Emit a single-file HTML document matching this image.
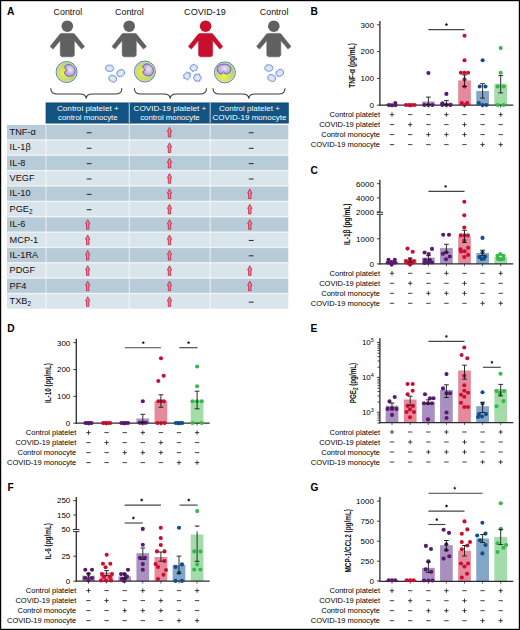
<!DOCTYPE html>
<html><head><meta charset="utf-8"><title>Figure</title>
<style>
html,body{margin:0;padding:0;background:#fff;}
body{width:520px;height:630px;overflow:hidden;}
svg{display:block;font-family:"Liberation Sans", sans-serif;}
</style></head><body>
<svg width="520" height="630" viewBox="0 0 520 630">
<defs>
<radialGradient id="cellga" cx="0.38" cy="0.55" r="0.5">
<stop offset="0" stop-color="#eef040"/><stop offset="0.35" stop-color="#d9e560"/><stop offset="0.8" stop-color="#c0d77a"/><stop offset="1" stop-color="#b0cd86"/></radialGradient>
<radialGradient id="cellgb" cx="0.45" cy="0.7" r="0.5">
<stop offset="0" stop-color="#eef040"/><stop offset="0.35" stop-color="#d9e560"/><stop offset="0.8" stop-color="#c0d77a"/><stop offset="1" stop-color="#b0cd86"/></radialGradient>
<radialGradient id="nucg" cx="0.55" cy="0.45" r="0.6">
<stop offset="0" stop-color="#efe6f4"/><stop offset="1" stop-color="#a995cf"/></radialGradient>
<radialGradient id="platg" cx="0.5" cy="0.55" r="0.6">
<stop offset="0" stop-color="#e8f0fb"/><stop offset="1" stop-color="#bfd0ee"/></radialGradient>
</defs>
<rect x="0" y="0" width="520" height="630" fill="#fff"/>
<text x="7.1" y="14.8" font-size="10.2" font-weight="bold">A</text><text x="67.9" y="14.9" font-size="9.1" text-anchor="middle" textLength="28.6" lengthAdjust="spacingAndGlyphs" fill="#111">Control</text><text x="129.4" y="14.9" font-size="9.1" text-anchor="middle" textLength="28.6" lengthAdjust="spacingAndGlyphs" fill="#111">Control</text><text x="205" y="14.9" font-size="9.1" text-anchor="middle" textLength="41.8" lengthAdjust="spacingAndGlyphs" fill="#111">COVID-19</text><text x="274.1" y="14.9" font-size="9.1" text-anchor="middle" textLength="28.6" lengthAdjust="spacingAndGlyphs" fill="#111">Control</text><circle cx="67.3" cy="26.2" r="5.8" fill="#606060"/><path d="M61.3,33.4 L73.3,33.4 L74.5,34 L84.5,46.6 L81.5,49.1 L74.3,40.4 L74.3,55.3 L72.8,56.8 L61.8,56.8 L60.3,55.3 L60.3,40.4 L53.1,49.1 L50.1,46.6 L60.1,34 Z" fill="#606060" stroke="#606060" stroke-width="0.6" stroke-linejoin="round"/><circle cx="129.2" cy="26.2" r="5.8" fill="#606060"/><path d="M123.2,33.4 L135.2,33.4 L136.4,34 L146.4,46.6 L143.4,49.1 L136.2,40.4 L136.2,55.3 L134.7,56.8 L123.7,56.8 L122.2,55.3 L122.2,40.4 L115,49.1 L112,46.6 L122,34 Z" fill="#606060" stroke="#606060" stroke-width="0.6" stroke-linejoin="round"/><circle cx="205.6" cy="26.2" r="5.8" fill="#c8102e"/><path d="M199.6,33.4 L211.6,33.4 L212.8,34 L222.8,46.6 L219.8,49.1 L212.6,40.4 L212.6,55.3 L211.1,56.8 L200.1,56.8 L198.6,55.3 L198.6,40.4 L191.4,49.1 L188.4,46.6 L198.4,34 Z" fill="#c8102e" stroke="#c8102e" stroke-width="0.6" stroke-linejoin="round"/><circle cx="273.8" cy="26.2" r="5.8" fill="#606060"/><path d="M267.8,33.4 L279.8,33.4 L281,34 L291,46.6 L288,49.1 L280.8,40.4 L280.8,55.3 L279.3,56.8 L268.3,56.8 L266.8,55.3 L266.8,40.4 L259.6,49.1 L256.6,46.6 L266.6,34 Z" fill="#606060" stroke="#606060" stroke-width="0.6" stroke-linejoin="round"/><circle cx="66.6" cy="72" r="10.5" fill="url(#cellga)" stroke="#5a7cd0" stroke-width="1.0"/><circle cx="66.6" cy="72" r="9.5" fill="none" stroke="#dcee9a" stroke-width="0.8" stroke-opacity="0.7"/><path d="M64.3,67.5 C65.1,64.4 69.6,63.4 72.2,66 C76.5,69 76,75.6 71,76.1 C67.1,76.8 64,74.6 64.6,71.8 L67,70.4 Z" fill="url(#nucg)" stroke="#5e56b8" stroke-width="0.85"/><circle cx="144.9" cy="71.5" r="10.5" fill="url(#cellga)" stroke="#5a7cd0" stroke-width="1.0"/><circle cx="144.9" cy="71.5" r="9.5" fill="none" stroke="#dcee9a" stroke-width="0.8" stroke-opacity="0.7"/><path d="M142.6,67 C143.4,63.9 147.9,62.9 150.5,65.5 C154.8,68.5 154.3,75.1 149.3,75.6 C145.4,76.3 142.3,74.1 142.9,71.3 L145.3,69.9 Z" fill="url(#nucg)" stroke="#5e56b8" stroke-width="0.85"/><circle cx="224.9" cy="72.4" r="10.5" fill="url(#cellgb)" stroke="#5a7cd0" stroke-width="1.0"/><circle cx="224.9" cy="72.4" r="9.5" fill="none" stroke="#dcee9a" stroke-width="0.8" stroke-opacity="0.7"/><path d="M225.2,73.9 C228.4,74.2 230.8,71.9 230.8,69.2 C230.8,66.2 228.1,64.2 224,64.2 C219.9,64.2 217.2,66.2 217.2,69.2 C217.2,71.9 219.4,74.2 221.7,74 Q222.7,73.8 223,72.2 Q223.6,71 224.2,72.2 Q224.5,73.9 225.2,73.9 Z" fill="url(#nucg)" stroke="#5e56b8" stroke-width="0.85"/><ellipse cx="0" cy="0" rx="4.1" ry="3.3" transform="translate(109.6 68.25) rotate(8)" fill="url(#platg)" stroke="#6f8fd2" stroke-width="0.8"/><ellipse cx="0" cy="0" rx="4.1" ry="3.3" transform="translate(120.75 73.1) rotate(-25)" fill="url(#platg)" stroke="#6f8fd2" stroke-width="0.8"/><ellipse cx="0" cy="0" rx="4.1" ry="3.3" transform="translate(112.75 78.6) rotate(20)" fill="url(#platg)" stroke="#6f8fd2" stroke-width="0.8"/><ellipse cx="0" cy="0" rx="4.1" ry="3.3" transform="translate(268.8 68) rotate(8)" fill="url(#platg)" stroke="#6f8fd2" stroke-width="0.8"/><ellipse cx="0" cy="0" rx="4.1" ry="3.3" transform="translate(279.8 72.9) rotate(-25)" fill="url(#platg)" stroke="#6f8fd2" stroke-width="0.8"/><ellipse cx="0" cy="0" rx="4.1" ry="3.3" transform="translate(271.7 78) rotate(20)" fill="url(#platg)" stroke="#6f8fd2" stroke-width="0.8"/><path d="M196.93,69.34 Q196.88,70.61 195.73,70.47 Q194.59,70.34 193.55,71.31 Q192.52,72.29 192.26,71.02 Q192,69.74 190.96,69.47 Q189.92,69.21 190.12,68.35 Q190.32,67.5 190.8,66.27 Q191.27,65.04 192.15,64.95 Q193.02,64.87 193.67,64.38 Q194.31,63.88 195.02,64.8 Q195.73,65.73 196.86,66.15 Q197.99,66.58 197.49,67.32 Q196.99,68.06 196.93,69.34 Z" fill="url(#platg)" stroke="#6485d0" stroke-width="0.9" stroke-linejoin="round"/><path d="M188.17,79.38 Q187.65,80.43 186.63,79.36 Q185.62,78.3 184.43,78.39 Q183.24,78.48 183.82,77.34 Q184.4,76.21 183.63,75.62 Q182.87,75.04 184.11,74.38 Q185.34,73.72 185.78,72.82 Q186.21,71.91 187.32,72.36 Q188.42,72.81 189.46,72.77 Q190.49,72.72 190.27,73.82 Q190.04,74.92 190.2,76.28 Q190.35,77.63 189.52,77.98 Q188.68,78.33 188.17,79.38 Z" fill="url(#platg)" stroke="#6485d0" stroke-width="0.9" stroke-linejoin="round"/><path d="M196.4,81.12 Q194.92,81.43 194.78,80.52 Q194.64,79.61 193.86,78.8 Q193.08,77.98 193.8,77.15 Q194.53,76.32 194.71,75.14 Q194.89,73.96 196.31,74.16 Q197.74,74.37 198.76,73.95 Q199.78,73.54 199.82,75.11 Q199.85,76.68 201.05,77.17 Q202.25,77.65 201.07,78.44 Q199.88,79.23 199.99,80.41 Q200.09,81.58 198.99,81.2 Q197.88,80.81 196.4,81.12 Z" fill="url(#platg)" stroke="#6485d0" stroke-width="0.9" stroke-linejoin="round"/><path d="M50.8,88.2 C50.8,92.5 53.3,94 57.3,94 L79.7,94 C84.2,94 86.2,95.2 86.2,98.8 C86.2,95.2 88.2,94 92.7,94 L115.4,94 C119.4,94 121.9,92.5 121.9,88.2" fill="none" stroke="#3a3a3a" stroke-width="1.05"/><path d="M134.4,88.2 C134.4,92.5 136.9,94 140.9,94 L163.7,94 C168.2,94 170.2,95.2 170.2,98.8 C170.2,95.2 172.2,94 176.7,94 L200,94 C204,94 206.5,92.5 206.5,88.2" fill="none" stroke="#3a3a3a" stroke-width="1.05"/><path d="M213,88.2 C213,92.5 215.5,94 219.5,94 L242.3,94 C246.8,94 248.8,95.2 248.8,98.8 C248.8,95.2 250.8,94 255.3,94 L278.5,94 C282.5,94 285,92.5 285,88.2" fill="none" stroke="#3a3a3a" stroke-width="1.05"/><rect x="46.0" y="102.9" width="242.3" height="20.2" fill="#135483" stroke="#0d4070" stroke-width="0.7"/><rect x="128.7" y="102.6" width="1.2" height="20.8" fill="#a9bfd4"/><rect x="209.6" y="102.6" width="1.2" height="20.8" fill="#a9bfd4"/><text x="87.85" y="110.8" font-size="8.1" text-anchor="middle" textLength="61.8" lengthAdjust="spacingAndGlyphs" fill="#fff">Control platelet +</text><text x="87.85" y="120.0" font-size="8.1" text-anchor="middle" textLength="59.6" lengthAdjust="spacingAndGlyphs" fill="#fff">control monocyte</text><text x="169.95" y="110.8" font-size="8.1" text-anchor="middle" textLength="72.7" lengthAdjust="spacingAndGlyphs" fill="#fff">COVID-19 platelet +</text><text x="169.95" y="120.0" font-size="8.1" text-anchor="middle" textLength="59.5" lengthAdjust="spacingAndGlyphs" fill="#fff">control monocyte</text><text x="249.45" y="110.8" font-size="8.1" text-anchor="middle" textLength="60.9" lengthAdjust="spacingAndGlyphs" fill="#fff">Control platelet +</text><text x="249.45" y="120.0" font-size="8.1" text-anchor="middle" textLength="73.9" lengthAdjust="spacingAndGlyphs" fill="#fff">COVID-19 monocyte</text><rect x="7.0" y="124.9" width="281.3" height="15" fill="#b8cbd9"/><rect x="7.0" y="139.9" width="281.3" height="15.36" fill="#dae4eb"/><rect x="7.0" y="155.26" width="281.3" height="15.36" fill="#b8cbd9"/><rect x="7.0" y="170.62" width="281.3" height="15.36" fill="#dae4eb"/><rect x="7.0" y="185.98" width="281.3" height="15.36" fill="#b8cbd9"/><rect x="7.0" y="201.34" width="281.3" height="15.36" fill="#dae4eb"/><rect x="7.0" y="216.7" width="281.3" height="15.36" fill="#b8cbd9"/><rect x="7.0" y="232.06" width="281.3" height="15.36" fill="#dae4eb"/><rect x="7.0" y="247.42" width="281.3" height="15.36" fill="#b8cbd9"/><rect x="7.0" y="262.78" width="281.3" height="15.36" fill="#dae4eb"/><rect x="7.0" y="278.14" width="281.3" height="15.36" fill="#b8cbd9"/><rect x="7.0" y="293.5" width="281.3" height="15.2" fill="#dae4eb"/><rect x="7.0" y="139.2" width="281.3" height="1.4" fill="#fff" fill-opacity="0.62"/><rect x="7.0" y="154.56" width="281.3" height="1.4" fill="#fff" fill-opacity="0.62"/><rect x="7.0" y="169.92" width="281.3" height="1.4" fill="#fff" fill-opacity="0.62"/><rect x="7.0" y="185.28" width="281.3" height="1.4" fill="#fff" fill-opacity="0.62"/><rect x="7.0" y="200.64" width="281.3" height="1.4" fill="#fff" fill-opacity="0.62"/><rect x="7.0" y="216" width="281.3" height="1.4" fill="#fff" fill-opacity="0.62"/><rect x="7.0" y="231.36" width="281.3" height="1.4" fill="#fff" fill-opacity="0.62"/><rect x="7.0" y="246.72" width="281.3" height="1.4" fill="#fff" fill-opacity="0.62"/><rect x="7.0" y="262.08" width="281.3" height="1.4" fill="#fff" fill-opacity="0.62"/><rect x="7.0" y="277.44" width="281.3" height="1.4" fill="#fff" fill-opacity="0.62"/><rect x="7.0" y="292.8" width="281.3" height="1.4" fill="#fff" fill-opacity="0.62"/><rect x="45.35" y="124.9" width="1.3" height="183.8" fill="#fff" fill-opacity="0.55"/><rect x="128.65" y="124.9" width="1.3" height="183.8" fill="#fff" fill-opacity="0.55"/><rect x="209.55" y="124.9" width="1.3" height="183.8" fill="#fff" fill-opacity="0.55"/><text x="9.6" y="134.85" font-size="9.2" fill="#111">TNF-α</text><rect x="86.7" y="132.25" width="4.8" height="1.0" fill="#262626"/><path d="M169.5,127.35 L171.65,131.55 L170.7,131.55 L170.7,136.95 L168.3,136.95 L168.3,131.55 L167.35,131.55 Z" fill="#ec8499" stroke="#c71c3e" stroke-width="0.8" stroke-linejoin="round"/><rect x="248.8" y="132.25" width="4.8" height="1.0" fill="#262626"/><text x="9.6" y="150.38" font-size="9.2" fill="#111">IL-1β</text><rect x="86.7" y="147.78" width="4.8" height="1.0" fill="#262626"/><path d="M169.5,142.88 L171.65,147.08 L170.7,147.08 L170.7,152.48 L168.3,152.48 L168.3,147.08 L167.35,147.08 Z" fill="#ec8499" stroke="#c71c3e" stroke-width="0.8" stroke-linejoin="round"/><rect x="248.8" y="147.78" width="4.8" height="1.0" fill="#262626"/><text x="9.6" y="165.74" font-size="9.2" fill="#111">IL-8</text><rect x="86.7" y="163.14" width="4.8" height="1.0" fill="#262626"/><path d="M169.5,158.24 L171.65,162.44 L170.7,162.44 L170.7,167.84 L168.3,167.84 L168.3,162.44 L167.35,162.44 Z" fill="#ec8499" stroke="#c71c3e" stroke-width="0.8" stroke-linejoin="round"/><rect x="248.8" y="163.14" width="4.8" height="1.0" fill="#262626"/><text x="9.6" y="181.1" font-size="9.2" fill="#111">VEGF</text><rect x="86.7" y="178.5" width="4.8" height="1.0" fill="#262626"/><path d="M169.5,173.6 L171.65,177.8 L170.7,177.8 L170.7,183.2 L168.3,183.2 L168.3,177.8 L167.35,177.8 Z" fill="#ec8499" stroke="#c71c3e" stroke-width="0.8" stroke-linejoin="round"/><rect x="248.8" y="178.5" width="4.8" height="1.0" fill="#262626"/><text x="9.6" y="196.46" font-size="9.2" fill="#111">IL-10</text><rect x="86.7" y="193.86" width="4.8" height="1.0" fill="#262626"/><path d="M169.5,188.96 L171.65,193.16 L170.7,193.16 L170.7,198.56 L168.3,198.56 L168.3,193.16 L167.35,193.16 Z" fill="#ec8499" stroke="#c71c3e" stroke-width="0.8" stroke-linejoin="round"/><path d="M249.8,188.96 L251.95,193.16 L251,193.16 L251,198.56 L248.6,198.56 L248.6,193.16 L247.65,193.16 Z" fill="#ec8499" stroke="#c71c3e" stroke-width="0.8" stroke-linejoin="round"/><text x="9.6" y="211.82" font-size="9.2" fill="#111">PGE<tspan font-size="6.5" dy="2">2</tspan></text><rect x="86.7" y="209.22" width="4.8" height="1.0" fill="#262626"/><path d="M169.5,204.32 L171.65,208.52 L170.7,208.52 L170.7,213.92 L168.3,213.92 L168.3,208.52 L167.35,208.52 Z" fill="#ec8499" stroke="#c71c3e" stroke-width="0.8" stroke-linejoin="round"/><path d="M249.8,204.32 L251.95,208.52 L251,208.52 L251,213.92 L248.6,213.92 L248.6,208.52 L247.65,208.52 Z" fill="#ec8499" stroke="#c71c3e" stroke-width="0.8" stroke-linejoin="round"/><text x="9.6" y="227.18" font-size="9.2" fill="#111">IL-6</text><path d="M87.7,219.68 L89.85,223.88 L88.9,223.88 L88.9,229.28 L86.5,229.28 L86.5,223.88 L85.55,223.88 Z" fill="#ec8499" stroke="#c71c3e" stroke-width="0.8" stroke-linejoin="round"/><path d="M169.5,219.68 L171.65,223.88 L170.7,223.88 L170.7,229.28 L168.3,229.28 L168.3,223.88 L167.35,223.88 Z" fill="#ec8499" stroke="#c71c3e" stroke-width="0.8" stroke-linejoin="round"/><path d="M249.8,219.68 L251.95,223.88 L251,223.88 L251,229.28 L248.6,229.28 L248.6,223.88 L247.65,223.88 Z" fill="#ec8499" stroke="#c71c3e" stroke-width="0.8" stroke-linejoin="round"/><text x="9.6" y="242.54" font-size="9.2" fill="#111">MCP-1</text><path d="M87.7,235.04 L89.85,239.24 L88.9,239.24 L88.9,244.64 L86.5,244.64 L86.5,239.24 L85.55,239.24 Z" fill="#ec8499" stroke="#c71c3e" stroke-width="0.8" stroke-linejoin="round"/><path d="M169.5,235.04 L171.65,239.24 L170.7,239.24 L170.7,244.64 L168.3,244.64 L168.3,239.24 L167.35,239.24 Z" fill="#ec8499" stroke="#c71c3e" stroke-width="0.8" stroke-linejoin="round"/><rect x="248.8" y="239.94" width="4.8" height="1.0" fill="#262626"/><text x="9.6" y="257.9" font-size="9.2" fill="#111">IL-1RA</text><path d="M87.7,250.4 L89.85,254.6 L88.9,254.6 L88.9,260 L86.5,260 L86.5,254.6 L85.55,254.6 Z" fill="#ec8499" stroke="#c71c3e" stroke-width="0.8" stroke-linejoin="round"/><path d="M169.5,250.4 L171.65,254.6 L170.7,254.6 L170.7,260 L168.3,260 L168.3,254.6 L167.35,254.6 Z" fill="#ec8499" stroke="#c71c3e" stroke-width="0.8" stroke-linejoin="round"/><rect x="248.8" y="255.3" width="4.8" height="1.0" fill="#262626"/><text x="9.6" y="273.26" font-size="9.2" fill="#111">PDGF</text><path d="M87.7,265.76 L89.85,269.96 L88.9,269.96 L88.9,275.36 L86.5,275.36 L86.5,269.96 L85.55,269.96 Z" fill="#ec8499" stroke="#c71c3e" stroke-width="0.8" stroke-linejoin="round"/><path d="M169.5,265.76 L171.65,269.96 L170.7,269.96 L170.7,275.36 L168.3,275.36 L168.3,269.96 L167.35,269.96 Z" fill="#ec8499" stroke="#c71c3e" stroke-width="0.8" stroke-linejoin="round"/><path d="M249.8,265.76 L251.95,269.96 L251,269.96 L251,275.36 L248.6,275.36 L248.6,269.96 L247.65,269.96 Z" fill="#ec8499" stroke="#c71c3e" stroke-width="0.8" stroke-linejoin="round"/><text x="9.6" y="288.62" font-size="9.2" fill="#111">PF4</text><path d="M87.7,281.12 L89.85,285.32 L88.9,285.32 L88.9,290.72 L86.5,290.72 L86.5,285.32 L85.55,285.32 Z" fill="#ec8499" stroke="#c71c3e" stroke-width="0.8" stroke-linejoin="round"/><path d="M169.5,281.12 L171.65,285.32 L170.7,285.32 L170.7,290.72 L168.3,290.72 L168.3,285.32 L167.35,285.32 Z" fill="#ec8499" stroke="#c71c3e" stroke-width="0.8" stroke-linejoin="round"/><path d="M249.8,281.12 L251.95,285.32 L251,285.32 L251,290.72 L248.6,290.72 L248.6,285.32 L247.65,285.32 Z" fill="#ec8499" stroke="#c71c3e" stroke-width="0.8" stroke-linejoin="round"/><text x="9.6" y="304.25" font-size="9.2" fill="#111">TXB<tspan font-size="6.5" dy="2">2</tspan></text><path d="M87.7,296.75 L89.85,300.95 L88.9,300.95 L88.9,306.35 L86.5,306.35 L86.5,300.95 L85.55,300.95 Z" fill="#ec8499" stroke="#c71c3e" stroke-width="0.8" stroke-linejoin="round"/><path d="M169.5,296.75 L171.65,300.95 L170.7,300.95 L170.7,306.35 L168.3,306.35 L168.3,300.95 L167.35,300.95 Z" fill="#ec8499" stroke="#c71c3e" stroke-width="0.8" stroke-linejoin="round"/><rect x="248.8" y="301.65" width="4.8" height="1.0" fill="#262626"/><text x="310.4" y="14.8" font-size="10.2" font-weight="bold">B</text><rect x="385.65" y="103.8" width="12.7" height="1.4" fill="#a890c0"/><rect x="403.85" y="104.3" width="12.7" height="0.9" fill="#e5899c"/><rect x="422.05" y="101.5" width="12.7" height="3.7" fill="#a890c0"/><rect x="440.05" y="102.6" width="12.7" height="2.6" fill="#a890c0"/><rect x="458.15" y="80.4" width="12.7" height="24.8" fill="#e5899c"/><rect x="476.25" y="91" width="12.7" height="14.2" fill="#82a5c8"/><rect x="494.35" y="83.7" width="12.7" height="21.5" fill="#a3dca8"/><path d="M379.9,21 V105.85" stroke="#2b2b2b" stroke-width="1.3" fill="none"/><path d="M379.25,105.2 H513.3" stroke="#2b2b2b" stroke-width="1.3" fill="none"/><circle cx="389" cy="105.1" r="2.05" fill="#5a1870"/><circle cx="392" cy="105.2" r="2.05" fill="#5a1870"/><circle cx="395.3" cy="103" r="2.05" fill="#5a1870"/><circle cx="395.3" cy="105.2" r="2.05" fill="#5a1870"/><circle cx="405.9" cy="105" r="2.05" fill="#cf0c2e"/><circle cx="408.77" cy="105" r="2.05" fill="#cf0c2e"/><circle cx="411.63" cy="105" r="2.05" fill="#cf0c2e"/><circle cx="414.5" cy="105" r="2.05" fill="#cf0c2e"/><circle cx="428.4" cy="73" r="2.05" fill="#5a1870"/><circle cx="424.4" cy="105" r="2.05" fill="#5a1870"/><circle cx="428.4" cy="105" r="2.05" fill="#5a1870"/><circle cx="432.4" cy="105" r="2.05" fill="#5a1870"/><circle cx="446.4" cy="93.9" r="2.05" fill="#5a1870"/><circle cx="442.4" cy="103.4" r="2.05" fill="#5a1870"/><circle cx="442.4" cy="105" r="2.05" fill="#5a1870"/><circle cx="446.4" cy="105" r="2.05" fill="#5a1870"/><circle cx="450.4" cy="105" r="2.05" fill="#5a1870"/><circle cx="464.5" cy="35.8" r="2.05" fill="#cf0c2e"/><circle cx="464.5" cy="60.2" r="2.05" fill="#cf0c2e"/><circle cx="460.9" cy="72.7" r="2.05" fill="#cf0c2e"/><circle cx="464.5" cy="72.7" r="2.05" fill="#cf0c2e"/><circle cx="468.1" cy="72.7" r="2.05" fill="#cf0c2e"/><circle cx="464.5" cy="79.4" r="2.05" fill="#cf0c2e"/><circle cx="464.5" cy="86.5" r="2.05" fill="#cf0c2e"/><circle cx="461.8" cy="103" r="2.05" fill="#cf0c2e"/><circle cx="467.2" cy="103" r="2.05" fill="#cf0c2e"/><circle cx="464.5" cy="105" r="2.05" fill="#cf0c2e"/><circle cx="482.6" cy="60.2" r="2.05" fill="#0e4f91"/><circle cx="479.7" cy="86.5" r="2.05" fill="#0e4f91"/><circle cx="485.5" cy="86.5" r="2.05" fill="#0e4f91"/><circle cx="478.8" cy="103" r="2.05" fill="#0e4f91"/><circle cx="482.6" cy="105" r="2.05" fill="#0e4f91"/><circle cx="486.4" cy="105" r="2.05" fill="#0e4f91"/><circle cx="500.7" cy="48.1" r="2.05" fill="#35b94b"/><circle cx="500.7" cy="72.7" r="2.05" fill="#35b94b"/><circle cx="497.7" cy="86.5" r="2.05" fill="#35b94b"/><circle cx="503.7" cy="86.5" r="2.05" fill="#35b94b"/><circle cx="497.7" cy="105" r="2.05" fill="#35b94b"/><circle cx="503.7" cy="105" r="2.05" fill="#35b94b"/><path d="M428.4,97.1 V104.5" stroke="#1a1a1a" stroke-width="0.9" fill="none"/><path d="M426,97.1 H430.8 M426,104.5 H430.8" stroke="#1a1a1a" stroke-width="0.9" fill="none"/><path d="M446.4,100.6 V104.5" stroke="#1a1a1a" stroke-width="0.9" fill="none"/><path d="M444,100.6 H448.8 M444,104.5 H448.8" stroke="#1a1a1a" stroke-width="0.9" fill="none"/><path d="M464.5,75 V86.5" stroke="#1a1a1a" stroke-width="0.9" fill="none"/><path d="M462.1,75 H466.9 M462.1,86.5 H466.9" stroke="#1a1a1a" stroke-width="0.9" fill="none"/><path d="M482.6,83.7 V98.1" stroke="#1a1a1a" stroke-width="0.9" fill="none"/><path d="M480.2,83.7 H485 M480.2,98.1 H485" stroke="#1a1a1a" stroke-width="0.9" fill="none"/><path d="M500.7,75.6 V92.9" stroke="#1a1a1a" stroke-width="0.9" fill="none"/><path d="M498.3,75.6 H503.1 M498.3,92.9 H503.1" stroke="#1a1a1a" stroke-width="0.9" fill="none"/><path d="M392,105.2 V107.5" stroke="#2b2b2b" stroke-width="0.8"/><path d="M410.2,105.2 V107.5" stroke="#2b2b2b" stroke-width="0.8"/><path d="M428.4,105.2 V107.5" stroke="#2b2b2b" stroke-width="0.8"/><path d="M446.4,105.2 V107.5" stroke="#2b2b2b" stroke-width="0.8"/><path d="M464.5,105.2 V107.5" stroke="#2b2b2b" stroke-width="0.8"/><path d="M482.6,105.2 V107.5" stroke="#2b2b2b" stroke-width="0.8"/><path d="M500.7,105.2 V107.5" stroke="#2b2b2b" stroke-width="0.8"/><path d="M376.9,105.2 H379.9" stroke="#2b2b2b" stroke-width="0.9"/><text x="373.9" y="108.05" font-size="8" text-anchor="end" fill="#000">0</text><path d="M376.9,78.4 H379.9" stroke="#2b2b2b" stroke-width="0.9"/><text x="373.9" y="81.25" font-size="8" text-anchor="end" fill="#000">100</text><path d="M376.9,51.6 H379.9" stroke="#2b2b2b" stroke-width="0.9"/><text x="373.9" y="54.45" font-size="8" text-anchor="end" fill="#000">200</text><path d="M376.9,24.8 H379.9" stroke="#2b2b2b" stroke-width="0.9"/><text x="373.9" y="27.65" font-size="8" text-anchor="end" fill="#000">300</text><text transform="translate(354.6 65.5) rotate(-90)" font-size="9" font-weight="bold" text-anchor="middle" textLength="44.7" lengthAdjust="spacingAndGlyphs" fill="#111">TNF-α (pg/mL)</text><path d="M428.4,29.6 H464.5" stroke="#444" stroke-width="1.15"/><path d="M446.45,22.85 L446.98,23.87 L448.11,24.06 L447.31,24.88 L447.48,26.02 L446.45,25.5 L445.42,26.02 L445.59,24.88 L444.79,24.06 L445.92,23.87 Z" fill="#111"/><text x="380" y="117.3" font-size="7.5" text-anchor="end" fill="#000">Control platelet</text><path d="M389.8,114.6 H394.2 M392,112.4 V116.8" stroke="#222" stroke-width="0.85"/><path d="M408,114.6 H412.4" stroke="#222" stroke-width="0.85"/><path d="M426.2,114.6 H430.6" stroke="#222" stroke-width="0.85"/><path d="M444.2,114.6 H448.6 M446.4,112.4 V116.8" stroke="#222" stroke-width="0.85"/><path d="M462.3,114.6 H466.7" stroke="#222" stroke-width="0.85"/><path d="M480.4,114.6 H484.8" stroke="#222" stroke-width="0.85"/><path d="M498.5,114.6 H502.9 M500.7,112.4 V116.8" stroke="#222" stroke-width="0.85"/><text x="380" y="127.3" font-size="7.5" text-anchor="end" fill="#000">COVID-19 platelet</text><path d="M389.8,124.6 H394.2" stroke="#222" stroke-width="0.85"/><path d="M408,124.6 H412.4 M410.2,122.4 V126.8" stroke="#222" stroke-width="0.85"/><path d="M426.2,124.6 H430.6" stroke="#222" stroke-width="0.85"/><path d="M444.2,124.6 H448.6" stroke="#222" stroke-width="0.85"/><path d="M462.3,124.6 H466.7 M464.5,122.4 V126.8" stroke="#222" stroke-width="0.85"/><path d="M480.4,124.6 H484.8" stroke="#222" stroke-width="0.85"/><path d="M498.5,124.6 H502.9" stroke="#222" stroke-width="0.85"/><text x="380" y="137.3" font-size="7.5" text-anchor="end" fill="#000">Control monocyte</text><path d="M389.8,134.6 H394.2" stroke="#222" stroke-width="0.85"/><path d="M408,134.6 H412.4" stroke="#222" stroke-width="0.85"/><path d="M426.2,134.6 H430.6 M428.4,132.4 V136.8" stroke="#222" stroke-width="0.85"/><path d="M444.2,134.6 H448.6 M446.4,132.4 V136.8" stroke="#222" stroke-width="0.85"/><path d="M462.3,134.6 H466.7 M464.5,132.4 V136.8" stroke="#222" stroke-width="0.85"/><path d="M480.4,134.6 H484.8" stroke="#222" stroke-width="0.85"/><path d="M498.5,134.6 H502.9" stroke="#222" stroke-width="0.85"/><text x="380" y="147.3" font-size="7.5" text-anchor="end" fill="#000">COVID-19 monocyte</text><path d="M389.8,144.6 H394.2" stroke="#222" stroke-width="0.85"/><path d="M408,144.6 H412.4" stroke="#222" stroke-width="0.85"/><path d="M426.2,144.6 H430.6" stroke="#222" stroke-width="0.85"/><path d="M444.2,144.6 H448.6" stroke="#222" stroke-width="0.85"/><path d="M462.3,144.6 H466.7" stroke="#222" stroke-width="0.85"/><path d="M480.4,144.6 H484.8 M482.6,142.4 V146.8" stroke="#222" stroke-width="0.85"/><path d="M498.5,144.6 H502.9 M500.7,142.4 V146.8" stroke="#222" stroke-width="0.85"/><text x="310.4" y="173.5" font-size="10.2" font-weight="bold">C</text><rect x="385.65" y="261.7" width="12.7" height="2.2" fill="#a890c0"/><rect x="403.85" y="259.7" width="12.7" height="4.2" fill="#e5899c"/><rect x="422.05" y="257.6" width="12.7" height="6.3" fill="#a890c0"/><rect x="440.05" y="248.1" width="12.7" height="15.8" fill="#a890c0"/><rect x="458.15" y="236.7" width="12.7" height="27.2" fill="#e5899c"/><rect x="476.25" y="253" width="12.7" height="10.9" fill="#82a5c8"/><rect x="494.35" y="257" width="12.7" height="6.9" fill="#a3dca8"/><path d="M379.9,179.8 V212.3 M379.9,214.3 V264.55" stroke="#2b2b2b" stroke-width="1.3" fill="none"/><path d="M376.7,212.3 H383.1 M376.7,214.3 H383.1" stroke="#2b2b2b" stroke-width="1" fill="none"/><path d="M379.25,263.9 H513.3" stroke="#2b2b2b" stroke-width="1.3" fill="none"/><circle cx="388.5" cy="259.7" r="2.05" fill="#5a1870"/><circle cx="394.8" cy="259.7" r="2.05" fill="#5a1870"/><circle cx="391.6" cy="262" r="2.05" fill="#5a1870"/><circle cx="388" cy="262.6" r="2.05" fill="#5a1870"/><circle cx="395" cy="262.6" r="2.05" fill="#5a1870"/><circle cx="391.6" cy="264.6" r="2.05" fill="#5a1870"/><circle cx="407.5" cy="248.6" r="2.05" fill="#cf0c2e"/><circle cx="412.7" cy="251.7" r="2.05" fill="#cf0c2e"/><circle cx="406" cy="261" r="2.05" fill="#cf0c2e"/><circle cx="410" cy="259.5" r="2.05" fill="#cf0c2e"/><circle cx="414" cy="261" r="2.05" fill="#cf0c2e"/><circle cx="408" cy="263" r="2.05" fill="#cf0c2e"/><circle cx="412" cy="263" r="2.05" fill="#cf0c2e"/><circle cx="410" cy="264.6" r="2.05" fill="#cf0c2e"/><circle cx="432" cy="248.9" r="2.05" fill="#5a1870"/><circle cx="424.6" cy="252.5" r="2.05" fill="#5a1870"/><circle cx="428.7" cy="254" r="2.05" fill="#5a1870"/><circle cx="425" cy="260" r="2.05" fill="#5a1870"/><circle cx="430" cy="260" r="2.05" fill="#5a1870"/><circle cx="428" cy="262.5" r="2.05" fill="#5a1870"/><circle cx="432" cy="262.5" r="2.05" fill="#5a1870"/><circle cx="424.5" cy="263" r="2.05" fill="#5a1870"/><circle cx="443.2" cy="234.8" r="2.05" fill="#5a1870"/><circle cx="449" cy="234.8" r="2.05" fill="#5a1870"/><circle cx="442.9" cy="253.8" r="2.05" fill="#5a1870"/><circle cx="446.3" cy="252.2" r="2.05" fill="#5a1870"/><circle cx="449.8" cy="256.5" r="2.05" fill="#5a1870"/><circle cx="446" cy="259.2" r="2.05" fill="#5a1870"/><circle cx="464.3" cy="201.7" r="2.05" fill="#cf0c2e"/><circle cx="464.3" cy="215.2" r="2.05" fill="#cf0c2e"/><circle cx="464.3" cy="227.5" r="2.05" fill="#cf0c2e"/><circle cx="460.8" cy="235.4" r="2.05" fill="#cf0c2e"/><circle cx="464.3" cy="235.4" r="2.05" fill="#cf0c2e"/><circle cx="467.9" cy="235.4" r="2.05" fill="#cf0c2e"/><circle cx="464.3" cy="240.6" r="2.05" fill="#cf0c2e"/><circle cx="468.1" cy="247.8" r="2.05" fill="#cf0c2e"/><circle cx="460.6" cy="249.4" r="2.05" fill="#cf0c2e"/><circle cx="464.6" cy="251.3" r="2.05" fill="#cf0c2e"/><circle cx="461" cy="251.5" r="2.05" fill="#cf0c2e"/><circle cx="468.1" cy="254.9" r="2.05" fill="#cf0c2e"/><circle cx="464.3" cy="257" r="2.05" fill="#cf0c2e"/><circle cx="482.5" cy="237.9" r="2.05" fill="#0e4f91"/><circle cx="482.5" cy="252.5" r="2.05" fill="#0e4f91"/><circle cx="479.4" cy="257" r="2.05" fill="#0e4f91"/><circle cx="485.2" cy="256.5" r="2.05" fill="#0e4f91"/><circle cx="481.6" cy="258.9" r="2.05" fill="#0e4f91"/><circle cx="484" cy="258.6" r="2.05" fill="#0e4f91"/><circle cx="497.5" cy="255.7" r="2.05" fill="#35b94b"/><circle cx="500.3" cy="254.1" r="2.05" fill="#35b94b"/><circle cx="503.5" cy="255.7" r="2.05" fill="#35b94b"/><circle cx="498" cy="258.9" r="2.05" fill="#35b94b"/><circle cx="503.2" cy="258.9" r="2.05" fill="#35b94b"/><circle cx="500.5" cy="259.4" r="2.05" fill="#35b94b"/><path d="M410.2,258 V262" stroke="#1a1a1a" stroke-width="0.9" fill="none"/><path d="M407.8,258 H412.6 M407.8,262 H412.6" stroke="#1a1a1a" stroke-width="0.9" fill="none"/><path d="M428.4,255.7 V260" stroke="#1a1a1a" stroke-width="0.9" fill="none"/><path d="M426,255.7 H430.8 M426,260 H430.8" stroke="#1a1a1a" stroke-width="0.9" fill="none"/><path d="M446.4,244.3 V252.5" stroke="#1a1a1a" stroke-width="0.9" fill="none"/><path d="M444,244.3 H448.8 M444,252.5 H448.8" stroke="#1a1a1a" stroke-width="0.9" fill="none"/><path d="M464.5,230.3 V242.5" stroke="#1a1a1a" stroke-width="0.9" fill="none"/><path d="M462.1,230.3 H466.9 M462.1,242.5 H466.9" stroke="#1a1a1a" stroke-width="0.9" fill="none"/><path d="M482.6,250.2 V255.7" stroke="#1a1a1a" stroke-width="0.9" fill="none"/><path d="M480.2,250.2 H485 M480.2,255.7 H485" stroke="#1a1a1a" stroke-width="0.9" fill="none"/><path d="M392,263.9 V266.2" stroke="#2b2b2b" stroke-width="0.8"/><path d="M410.2,263.9 V266.2" stroke="#2b2b2b" stroke-width="0.8"/><path d="M428.4,263.9 V266.2" stroke="#2b2b2b" stroke-width="0.8"/><path d="M446.4,263.9 V266.2" stroke="#2b2b2b" stroke-width="0.8"/><path d="M464.5,263.9 V266.2" stroke="#2b2b2b" stroke-width="0.8"/><path d="M482.6,263.9 V266.2" stroke="#2b2b2b" stroke-width="0.8"/><path d="M500.7,263.9 V266.2" stroke="#2b2b2b" stroke-width="0.8"/><path d="M376.9,263.9 H379.9" stroke="#2b2b2b" stroke-width="0.9"/><text x="373.9" y="266.75" font-size="8" text-anchor="end" fill="#000">0</text><path d="M376.9,238.8 H379.9" stroke="#2b2b2b" stroke-width="0.9"/><text x="373.9" y="241.65" font-size="8" text-anchor="end" fill="#000">1000</text><path d="M376.9,211.9 H379.9" stroke="#2b2b2b" stroke-width="0.9"/><text x="373.9" y="214.75" font-size="8" text-anchor="end" fill="#000">2000</text><path d="M376.9,197.9 H379.9" stroke="#2b2b2b" stroke-width="0.9"/><text x="373.9" y="200.75" font-size="8" text-anchor="end" fill="#000">4000</text><path d="M376.9,183.7 H379.9" stroke="#2b2b2b" stroke-width="0.9"/><text x="373.9" y="186.55" font-size="8" text-anchor="end" fill="#000">6000</text><text transform="translate(349.8 224.3) rotate(-90)" font-size="9" font-weight="bold" text-anchor="middle" textLength="41.6" lengthAdjust="spacingAndGlyphs" fill="#111">IL-1β (pg/mL)</text><path d="M428.4,191.4 H464.5" stroke="#444" stroke-width="1.15"/><path d="M445.6,184.65 L446.13,185.67 L447.26,185.86 L446.46,186.68 L446.63,187.82 L445.6,187.3 L444.57,187.82 L444.74,186.68 L443.94,185.86 L445.07,185.67 Z" fill="#111"/><text x="380" y="276" font-size="7.5" text-anchor="end" fill="#000">Control platelet</text><path d="M389.8,273.3 H394.2 M392,271.1 V275.5" stroke="#222" stroke-width="0.85"/><path d="M408,273.3 H412.4" stroke="#222" stroke-width="0.85"/><path d="M426.2,273.3 H430.6" stroke="#222" stroke-width="0.85"/><path d="M444.2,273.3 H448.6 M446.4,271.1 V275.5" stroke="#222" stroke-width="0.85"/><path d="M462.3,273.3 H466.7" stroke="#222" stroke-width="0.85"/><path d="M480.4,273.3 H484.8" stroke="#222" stroke-width="0.85"/><path d="M498.5,273.3 H502.9 M500.7,271.1 V275.5" stroke="#222" stroke-width="0.85"/><text x="380" y="286" font-size="7.5" text-anchor="end" fill="#000">COVID-19 platelet</text><path d="M389.8,283.3 H394.2" stroke="#222" stroke-width="0.85"/><path d="M408,283.3 H412.4 M410.2,281.1 V285.5" stroke="#222" stroke-width="0.85"/><path d="M426.2,283.3 H430.6" stroke="#222" stroke-width="0.85"/><path d="M444.2,283.3 H448.6" stroke="#222" stroke-width="0.85"/><path d="M462.3,283.3 H466.7 M464.5,281.1 V285.5" stroke="#222" stroke-width="0.85"/><path d="M480.4,283.3 H484.8" stroke="#222" stroke-width="0.85"/><path d="M498.5,283.3 H502.9" stroke="#222" stroke-width="0.85"/><text x="380" y="296" font-size="7.5" text-anchor="end" fill="#000">Control monocyte</text><path d="M389.8,293.3 H394.2" stroke="#222" stroke-width="0.85"/><path d="M408,293.3 H412.4" stroke="#222" stroke-width="0.85"/><path d="M426.2,293.3 H430.6 M428.4,291.1 V295.5" stroke="#222" stroke-width="0.85"/><path d="M444.2,293.3 H448.6 M446.4,291.1 V295.5" stroke="#222" stroke-width="0.85"/><path d="M462.3,293.3 H466.7 M464.5,291.1 V295.5" stroke="#222" stroke-width="0.85"/><path d="M480.4,293.3 H484.8" stroke="#222" stroke-width="0.85"/><path d="M498.5,293.3 H502.9" stroke="#222" stroke-width="0.85"/><text x="380" y="306" font-size="7.5" text-anchor="end" fill="#000">COVID-19 monocyte</text><path d="M389.8,303.3 H394.2" stroke="#222" stroke-width="0.85"/><path d="M408,303.3 H412.4" stroke="#222" stroke-width="0.85"/><path d="M426.2,303.3 H430.6" stroke="#222" stroke-width="0.85"/><path d="M444.2,303.3 H448.6" stroke="#222" stroke-width="0.85"/><path d="M462.3,303.3 H466.7" stroke="#222" stroke-width="0.85"/><path d="M480.4,303.3 H484.8 M482.6,301.1 V305.5" stroke="#222" stroke-width="0.85"/><path d="M498.5,303.3 H502.9 M500.7,301.1 V305.5" stroke="#222" stroke-width="0.85"/><text x="7.2" y="331.7" font-size="10.2" font-weight="bold">D</text><rect x="136.45" y="418.5" width="12.7" height="4.7" fill="#a890c0"/><rect x="154.55" y="401.2" width="12.7" height="22" fill="#e5899c"/><rect x="190.75" y="400.2" width="12.7" height="23" fill="#a3dca8"/><path d="M76.3,338.8 V423.85" stroke="#2b2b2b" stroke-width="1.3" fill="none"/><path d="M75.65,423.2 H209.7" stroke="#2b2b2b" stroke-width="1.3" fill="none"/><circle cx="85.5" cy="423" r="2.05" fill="#5a1870"/><circle cx="87.5" cy="423" r="2.05" fill="#5a1870"/><circle cx="89.5" cy="423" r="2.05" fill="#5a1870"/><circle cx="91.5" cy="423" r="2.05" fill="#5a1870"/><circle cx="103.1" cy="423" r="2.05" fill="#cf0c2e"/><circle cx="105.43" cy="423" r="2.05" fill="#cf0c2e"/><circle cx="107.77" cy="423" r="2.05" fill="#cf0c2e"/><circle cx="110.1" cy="423" r="2.05" fill="#cf0c2e"/><circle cx="121.4" cy="423" r="2.05" fill="#5a1870"/><circle cx="123.6" cy="423" r="2.05" fill="#5a1870"/><circle cx="125.8" cy="423" r="2.05" fill="#5a1870"/><circle cx="128" cy="423" r="2.05" fill="#5a1870"/><circle cx="142.8" cy="401.2" r="2.05" fill="#5a1870"/><circle cx="139.6" cy="422.8" r="2.05" fill="#5a1870"/><circle cx="141.73" cy="422.8" r="2.05" fill="#5a1870"/><circle cx="143.87" cy="422.8" r="2.05" fill="#5a1870"/><circle cx="146" cy="422.8" r="2.05" fill="#5a1870"/><circle cx="161" cy="358.3" r="2.05" fill="#cf0c2e"/><circle cx="163.7" cy="375.8" r="2.05" fill="#cf0c2e"/><circle cx="158.3" cy="381" r="2.05" fill="#cf0c2e"/><circle cx="158.3" cy="401.2" r="2.05" fill="#cf0c2e"/><circle cx="161" cy="401.2" r="2.05" fill="#cf0c2e"/><circle cx="164" cy="401.2" r="2.05" fill="#cf0c2e"/><circle cx="157.5" cy="423" r="2.05" fill="#cf0c2e"/><circle cx="161" cy="423" r="2.05" fill="#cf0c2e"/><circle cx="164.5" cy="423" r="2.05" fill="#cf0c2e"/><circle cx="175.8" cy="423" r="2.05" fill="#0e4f91"/><circle cx="177.93" cy="423" r="2.05" fill="#0e4f91"/><circle cx="180.07" cy="423" r="2.05" fill="#0e4f91"/><circle cx="182.2" cy="423" r="2.05" fill="#0e4f91"/><circle cx="197.1" cy="366.5" r="2.05" fill="#35b94b"/><circle cx="197.1" cy="386.3" r="2.05" fill="#35b94b"/><circle cx="192.5" cy="401.2" r="2.05" fill="#35b94b"/><circle cx="197.1" cy="401.2" r="2.05" fill="#35b94b"/><circle cx="201.7" cy="401.2" r="2.05" fill="#35b94b"/><circle cx="192.5" cy="423" r="2.05" fill="#35b94b"/><circle cx="201.7" cy="423" r="2.05" fill="#35b94b"/><path d="M142.8,414.3 V422.5" stroke="#1a1a1a" stroke-width="0.9" fill="none"/><path d="M140.4,414.3 H145.2 M140.4,422.5 H145.2" stroke="#1a1a1a" stroke-width="0.9" fill="none"/><path d="M160.9,394.8 V407.3" stroke="#1a1a1a" stroke-width="0.9" fill="none"/><path d="M158.5,394.8 H163.3 M158.5,407.3 H163.3" stroke="#1a1a1a" stroke-width="0.9" fill="none"/><path d="M197.1,391.2 V408.8" stroke="#1a1a1a" stroke-width="0.9" fill="none"/><path d="M194.7,391.2 H199.5 M194.7,408.8 H199.5" stroke="#1a1a1a" stroke-width="0.9" fill="none"/><path d="M88.5,423.2 V425.5" stroke="#2b2b2b" stroke-width="0.8"/><path d="M106.6,423.2 V425.5" stroke="#2b2b2b" stroke-width="0.8"/><path d="M124.7,423.2 V425.5" stroke="#2b2b2b" stroke-width="0.8"/><path d="M142.8,423.2 V425.5" stroke="#2b2b2b" stroke-width="0.8"/><path d="M160.9,423.2 V425.5" stroke="#2b2b2b" stroke-width="0.8"/><path d="M179,423.2 V425.5" stroke="#2b2b2b" stroke-width="0.8"/><path d="M197.1,423.2 V425.5" stroke="#2b2b2b" stroke-width="0.8"/><path d="M73.3,423.2 H76.3" stroke="#2b2b2b" stroke-width="0.9"/><text x="70.3" y="426.05" font-size="8" text-anchor="end" fill="#000">0</text><path d="M73.3,396.35 H76.3" stroke="#2b2b2b" stroke-width="0.9"/><text x="70.3" y="399.2" font-size="8" text-anchor="end" fill="#000">100</text><path d="M73.3,369.5 H76.3" stroke="#2b2b2b" stroke-width="0.9"/><text x="70.3" y="372.35" font-size="8" text-anchor="end" fill="#000">200</text><path d="M73.3,342.65 H76.3" stroke="#2b2b2b" stroke-width="0.9"/><text x="70.3" y="345.5" font-size="8" text-anchor="end" fill="#000">300</text><text transform="translate(51.2 383.1) rotate(-90)" font-size="9" font-weight="bold" text-anchor="middle" textLength="40" lengthAdjust="spacingAndGlyphs" fill="#111">IL-10 (pg/mL)</text><path d="M124.7,347.7 H160.9" stroke="#444" stroke-width="1.15"/><path d="M143.3,340.95 L143.83,341.97 L144.96,342.16 L144.16,342.98 L144.33,344.12 L143.3,343.6 L142.27,344.12 L142.44,342.98 L141.64,342.16 L142.77,341.97 Z" fill="#111"/><path d="M179.4,347.7 H197.6" stroke="#444" stroke-width="1.15"/><path d="M188.6,340.95 L189.13,341.97 L190.26,342.16 L189.46,342.98 L189.63,344.12 L188.6,343.6 L187.57,344.12 L187.74,342.98 L186.94,342.16 L188.07,341.97 Z" fill="#111"/><text x="76.3" y="435.3" font-size="7.5" text-anchor="end" fill="#000">Control platelet</text><path d="M86.3,432.6 H90.7 M88.5,430.4 V434.8" stroke="#222" stroke-width="0.85"/><path d="M104.4,432.6 H108.8" stroke="#222" stroke-width="0.85"/><path d="M122.5,432.6 H126.9" stroke="#222" stroke-width="0.85"/><path d="M140.6,432.6 H145 M142.8,430.4 V434.8" stroke="#222" stroke-width="0.85"/><path d="M158.7,432.6 H163.1" stroke="#222" stroke-width="0.85"/><path d="M176.8,432.6 H181.2" stroke="#222" stroke-width="0.85"/><path d="M194.9,432.6 H199.3 M197.1,430.4 V434.8" stroke="#222" stroke-width="0.85"/><text x="76.3" y="445.3" font-size="7.5" text-anchor="end" fill="#000">COVID-19 platelet</text><path d="M86.3,442.6 H90.7" stroke="#222" stroke-width="0.85"/><path d="M104.4,442.6 H108.8 M106.6,440.4 V444.8" stroke="#222" stroke-width="0.85"/><path d="M122.5,442.6 H126.9" stroke="#222" stroke-width="0.85"/><path d="M140.6,442.6 H145" stroke="#222" stroke-width="0.85"/><path d="M158.7,442.6 H163.1 M160.9,440.4 V444.8" stroke="#222" stroke-width="0.85"/><path d="M176.8,442.6 H181.2" stroke="#222" stroke-width="0.85"/><path d="M194.9,442.6 H199.3" stroke="#222" stroke-width="0.85"/><text x="76.3" y="455.3" font-size="7.5" text-anchor="end" fill="#000">Control monocyte</text><path d="M86.3,452.6 H90.7" stroke="#222" stroke-width="0.85"/><path d="M104.4,452.6 H108.8" stroke="#222" stroke-width="0.85"/><path d="M122.5,452.6 H126.9 M124.7,450.4 V454.8" stroke="#222" stroke-width="0.85"/><path d="M140.6,452.6 H145 M142.8,450.4 V454.8" stroke="#222" stroke-width="0.85"/><path d="M158.7,452.6 H163.1 M160.9,450.4 V454.8" stroke="#222" stroke-width="0.85"/><path d="M176.8,452.6 H181.2" stroke="#222" stroke-width="0.85"/><path d="M194.9,452.6 H199.3" stroke="#222" stroke-width="0.85"/><text x="76.3" y="465.3" font-size="7.5" text-anchor="end" fill="#000">COVID-19 monocyte</text><path d="M86.3,462.6 H90.7" stroke="#222" stroke-width="0.85"/><path d="M104.4,462.6 H108.8" stroke="#222" stroke-width="0.85"/><path d="M122.5,462.6 H126.9" stroke="#222" stroke-width="0.85"/><path d="M140.6,462.6 H145" stroke="#222" stroke-width="0.85"/><path d="M158.7,462.6 H163.1" stroke="#222" stroke-width="0.85"/><path d="M176.8,462.6 H181.2 M179,460.4 V464.8" stroke="#222" stroke-width="0.85"/><path d="M194.9,462.6 H199.3 M197.1,460.4 V464.8" stroke="#222" stroke-width="0.85"/><text x="310.4" y="331.5" font-size="10.2" font-weight="bold">E</text><rect x="385.65" y="405.7" width="12.7" height="16.9" fill="#a890c0"/><rect x="403.85" y="399.5" width="12.7" height="23.1" fill="#e5899c"/><rect x="422.05" y="402.2" width="12.7" height="20.4" fill="#a890c0"/><rect x="440.05" y="390" width="12.7" height="32.6" fill="#a890c0"/><rect x="458.15" y="370.5" width="12.7" height="52.1" fill="#e5899c"/><rect x="476.25" y="406.2" width="12.7" height="16.4" fill="#82a5c8"/><rect x="494.35" y="389" width="12.7" height="33.6" fill="#a3dca8"/><path d="M379.9,338.3 V423.25" stroke="#2b2b2b" stroke-width="1.3" fill="none"/><path d="M379.25,422.6 H513.3" stroke="#2b2b2b" stroke-width="1.3" fill="none"/><circle cx="394.7" cy="397" r="2.05" fill="#5a1870"/><circle cx="389.5" cy="401.4" r="2.05" fill="#5a1870"/><circle cx="387.6" cy="408.9" r="2.05" fill="#5a1870"/><circle cx="392" cy="408.9" r="2.05" fill="#5a1870"/><circle cx="396.5" cy="408.9" r="2.05" fill="#5a1870"/><circle cx="392" cy="414.9" r="2.05" fill="#5a1870"/><circle cx="407.6" cy="384" r="2.05" fill="#cf0c2e"/><circle cx="412.7" cy="384" r="2.05" fill="#cf0c2e"/><circle cx="412.7" cy="390.8" r="2.05" fill="#cf0c2e"/><circle cx="407.6" cy="394.3" r="2.05" fill="#cf0c2e"/><circle cx="407.6" cy="405.9" r="2.05" fill="#cf0c2e"/><circle cx="413" cy="405.9" r="2.05" fill="#cf0c2e"/><circle cx="410" cy="409.4" r="2.05" fill="#cf0c2e"/><circle cx="406.5" cy="412" r="2.05" fill="#cf0c2e"/><circle cx="414" cy="412" r="2.05" fill="#cf0c2e"/><circle cx="410" cy="417.3" r="2.05" fill="#cf0c2e"/><circle cx="425" cy="394.3" r="2.05" fill="#5a1870"/><circle cx="430" cy="398.3" r="2.05" fill="#5a1870"/><circle cx="433.5" cy="398.3" r="2.05" fill="#5a1870"/><circle cx="424" cy="403.3" r="2.05" fill="#5a1870"/><circle cx="428" cy="403.3" r="2.05" fill="#5a1870"/><circle cx="432" cy="403.3" r="2.05" fill="#5a1870"/><circle cx="428" cy="419.4" r="2.05" fill="#5a1870"/><circle cx="446.5" cy="374.1" r="2.05" fill="#5a1870"/><circle cx="443" cy="388.4" r="2.05" fill="#5a1870"/><circle cx="446.5" cy="393.2" r="2.05" fill="#5a1870"/><circle cx="450" cy="393.2" r="2.05" fill="#5a1870"/><circle cx="446.5" cy="412.5" r="2.05" fill="#5a1870"/><circle cx="446.5" cy="418" r="2.05" fill="#5a1870"/><circle cx="464.3" cy="347.5" r="2.05" fill="#cf0c2e"/><circle cx="461.6" cy="355" r="2.05" fill="#cf0c2e"/><circle cx="467.3" cy="358.3" r="2.05" fill="#cf0c2e"/><circle cx="464.3" cy="375.7" r="2.05" fill="#cf0c2e"/><circle cx="464.3" cy="385.2" r="2.05" fill="#cf0c2e"/><circle cx="464.3" cy="390.8" r="2.05" fill="#cf0c2e"/><circle cx="468" cy="392.7" r="2.05" fill="#cf0c2e"/><circle cx="461" cy="394.8" r="2.05" fill="#cf0c2e"/><circle cx="464.3" cy="396.7" r="2.05" fill="#cf0c2e"/><circle cx="461" cy="402.7" r="2.05" fill="#cf0c2e"/><circle cx="464.3" cy="407" r="2.05" fill="#cf0c2e"/><circle cx="468" cy="407" r="2.05" fill="#cf0c2e"/><circle cx="482.5" cy="392.2" r="2.05" fill="#0e4f91"/><circle cx="482.5" cy="403.8" r="2.05" fill="#0e4f91"/><circle cx="479" cy="414.1" r="2.05" fill="#0e4f91"/><circle cx="486" cy="414.1" r="2.05" fill="#0e4f91"/><circle cx="482" cy="416.5" r="2.05" fill="#0e4f91"/><circle cx="478" cy="417" r="2.05" fill="#0e4f91"/><circle cx="500.5" cy="373.7" r="2.05" fill="#35b94b"/><circle cx="496.5" cy="391.1" r="2.05" fill="#35b94b"/><circle cx="504" cy="391.1" r="2.05" fill="#35b94b"/><circle cx="500" cy="392.7" r="2.05" fill="#35b94b"/><circle cx="500" cy="394.3" r="2.05" fill="#35b94b"/><circle cx="503.5" cy="401.1" r="2.05" fill="#35b94b"/><circle cx="496.5" cy="406.2" r="2.05" fill="#35b94b"/><path d="M392,403 V407.8" stroke="#1a1a1a" stroke-width="0.9" fill="none"/><path d="M389.6,403 H394.4 M389.6,407.8 H394.4" stroke="#1a1a1a" stroke-width="0.9" fill="none"/><path d="M410.2,396.2 V405.4" stroke="#1a1a1a" stroke-width="0.9" fill="none"/><path d="M407.8,396.2 H412.6 M407.8,405.4 H412.6" stroke="#1a1a1a" stroke-width="0.9" fill="none"/><path d="M428.4,399.8 V403.8" stroke="#1a1a1a" stroke-width="0.9" fill="none"/><path d="M426,399.8 H430.8 M426,403.8 H430.8" stroke="#1a1a1a" stroke-width="0.9" fill="none"/><path d="M446.4,384.8 V397.5" stroke="#1a1a1a" stroke-width="0.9" fill="none"/><path d="M444,384.8 H448.8 M444,397.5 H448.8" stroke="#1a1a1a" stroke-width="0.9" fill="none"/><path d="M464.5,365.2 V379.2" stroke="#1a1a1a" stroke-width="0.9" fill="none"/><path d="M462.1,365.2 H466.9 M462.1,379.2 H466.9" stroke="#1a1a1a" stroke-width="0.9" fill="none"/><path d="M482.6,402.2 V412.5" stroke="#1a1a1a" stroke-width="0.9" fill="none"/><path d="M480.2,402.2 H485 M480.2,412.5 H485" stroke="#1a1a1a" stroke-width="0.9" fill="none"/><path d="M500.7,384.4 V395.9" stroke="#1a1a1a" stroke-width="0.9" fill="none"/><path d="M498.3,384.4 H503.1 M498.3,395.9 H503.1" stroke="#1a1a1a" stroke-width="0.9" fill="none"/><path d="M392,422.6 V424.9" stroke="#2b2b2b" stroke-width="0.8"/><path d="M410.2,422.6 V424.9" stroke="#2b2b2b" stroke-width="0.8"/><path d="M428.4,422.6 V424.9" stroke="#2b2b2b" stroke-width="0.8"/><path d="M446.4,422.6 V424.9" stroke="#2b2b2b" stroke-width="0.8"/><path d="M464.5,422.6 V424.9" stroke="#2b2b2b" stroke-width="0.8"/><path d="M482.6,422.6 V424.9" stroke="#2b2b2b" stroke-width="0.8"/><path d="M500.7,422.6 V424.9" stroke="#2b2b2b" stroke-width="0.8"/><path d="M376.9,342.45 H379.9" stroke="#2b2b2b" stroke-width="0.9"/><text x="373.9" y="345.3" font-size="8" text-anchor="end" fill="#000">10<tspan font-size="5.5" dy="-3.2">5</tspan></text><path d="M376.9,377.35 H379.9" stroke="#2b2b2b" stroke-width="0.9"/><text x="373.9" y="380.2" font-size="8" text-anchor="end" fill="#000">10<tspan font-size="5.5" dy="-3.2">4</tspan></text><path d="M376.9,412.25 H379.9" stroke="#2b2b2b" stroke-width="0.9"/><text x="373.9" y="415.1" font-size="8" text-anchor="end" fill="#000">10<tspan font-size="5.5" dy="-3.2">3</tspan></text><path d="M377.5,402.04 H379.9" stroke="#2b2b2b" stroke-width="0.9"/><path d="M377.5,395.9 H379.9" stroke="#2b2b2b" stroke-width="0.9"/><path d="M377.5,391.54 H379.9" stroke="#2b2b2b" stroke-width="0.9"/><path d="M377.5,388.16 H379.9" stroke="#2b2b2b" stroke-width="0.9"/><path d="M377.5,385.39 H379.9" stroke="#2b2b2b" stroke-width="0.9"/><path d="M377.5,383.06 H379.9" stroke="#2b2b2b" stroke-width="0.9"/><path d="M377.5,381.03 H379.9" stroke="#2b2b2b" stroke-width="0.9"/><path d="M377.5,379.25 H379.9" stroke="#2b2b2b" stroke-width="0.9"/><path d="M377.5,367.14 H379.9" stroke="#2b2b2b" stroke-width="0.9"/><path d="M377.5,361 H379.9" stroke="#2b2b2b" stroke-width="0.9"/><path d="M377.5,356.64 H379.9" stroke="#2b2b2b" stroke-width="0.9"/><path d="M377.5,353.26 H379.9" stroke="#2b2b2b" stroke-width="0.9"/><path d="M377.5,350.49 H379.9" stroke="#2b2b2b" stroke-width="0.9"/><path d="M377.5,348.16 H379.9" stroke="#2b2b2b" stroke-width="0.9"/><path d="M377.5,346.13 H379.9" stroke="#2b2b2b" stroke-width="0.9"/><path d="M377.5,344.35 H379.9" stroke="#2b2b2b" stroke-width="0.9"/><path d="M377.5,423.06 H379.9" stroke="#2b2b2b" stroke-width="0.9"/><path d="M377.5,420.29 H379.9" stroke="#2b2b2b" stroke-width="0.9"/><path d="M377.5,417.96 H379.9" stroke="#2b2b2b" stroke-width="0.9"/><path d="M377.5,415.93 H379.9" stroke="#2b2b2b" stroke-width="0.9"/><path d="M377.5,414.15 H379.9" stroke="#2b2b2b" stroke-width="0.9"/><text transform="translate(355.9 383.1) rotate(-90)" font-size="9" font-weight="bold" text-anchor="middle" textLength="40.4" lengthAdjust="spacingAndGlyphs" fill="#111">PGE<tspan font-size="6.5" dy="1.8">2</tspan><tspan dy="-1.8"> (pg/mL)</tspan></text><path d="M428.4,341.4 H464.5" stroke="#444" stroke-width="1.15"/><path d="M446.4,334.65 L446.93,335.67 L448.06,335.86 L447.26,336.68 L447.43,337.82 L446.4,337.3 L445.37,337.82 L445.54,336.68 L444.74,335.86 L445.87,335.67 Z" fill="#111"/><path d="M482.9,367.3 H500.8" stroke="#444" stroke-width="1.15"/><path d="M491.9,360.55 L492.43,361.57 L493.56,361.76 L492.76,362.58 L492.93,363.72 L491.9,363.2 L490.87,363.72 L491.04,362.58 L490.24,361.76 L491.37,361.57 Z" fill="#111"/><text x="380" y="434.7" font-size="7.5" text-anchor="end" fill="#000">Control platelet</text><path d="M389.8,432 H394.2 M392,429.8 V434.2" stroke="#222" stroke-width="0.85"/><path d="M408,432 H412.4" stroke="#222" stroke-width="0.85"/><path d="M426.2,432 H430.6" stroke="#222" stroke-width="0.85"/><path d="M444.2,432 H448.6 M446.4,429.8 V434.2" stroke="#222" stroke-width="0.85"/><path d="M462.3,432 H466.7" stroke="#222" stroke-width="0.85"/><path d="M480.4,432 H484.8" stroke="#222" stroke-width="0.85"/><path d="M498.5,432 H502.9 M500.7,429.8 V434.2" stroke="#222" stroke-width="0.85"/><text x="380" y="444.7" font-size="7.5" text-anchor="end" fill="#000">COVID-19 platelet</text><path d="M389.8,442 H394.2" stroke="#222" stroke-width="0.85"/><path d="M408,442 H412.4 M410.2,439.8 V444.2" stroke="#222" stroke-width="0.85"/><path d="M426.2,442 H430.6" stroke="#222" stroke-width="0.85"/><path d="M444.2,442 H448.6" stroke="#222" stroke-width="0.85"/><path d="M462.3,442 H466.7 M464.5,439.8 V444.2" stroke="#222" stroke-width="0.85"/><path d="M480.4,442 H484.8" stroke="#222" stroke-width="0.85"/><path d="M498.5,442 H502.9" stroke="#222" stroke-width="0.85"/><text x="380" y="454.7" font-size="7.5" text-anchor="end" fill="#000">Control monocyte</text><path d="M389.8,452 H394.2" stroke="#222" stroke-width="0.85"/><path d="M408,452 H412.4" stroke="#222" stroke-width="0.85"/><path d="M426.2,452 H430.6 M428.4,449.8 V454.2" stroke="#222" stroke-width="0.85"/><path d="M444.2,452 H448.6 M446.4,449.8 V454.2" stroke="#222" stroke-width="0.85"/><path d="M462.3,452 H466.7 M464.5,449.8 V454.2" stroke="#222" stroke-width="0.85"/><path d="M480.4,452 H484.8" stroke="#222" stroke-width="0.85"/><path d="M498.5,452 H502.9" stroke="#222" stroke-width="0.85"/><text x="380" y="464.7" font-size="7.5" text-anchor="end" fill="#000">COVID-19 monocyte</text><path d="M389.8,462 H394.2" stroke="#222" stroke-width="0.85"/><path d="M408,462 H412.4" stroke="#222" stroke-width="0.85"/><path d="M426.2,462 H430.6" stroke="#222" stroke-width="0.85"/><path d="M444.2,462 H448.6" stroke="#222" stroke-width="0.85"/><path d="M462.3,462 H466.7" stroke="#222" stroke-width="0.85"/><path d="M480.4,462 H484.8 M482.6,459.8 V464.2" stroke="#222" stroke-width="0.85"/><path d="M498.5,462 H502.9 M500.7,459.8 V464.2" stroke="#222" stroke-width="0.85"/><text x="7.4" y="490.8" font-size="10.2" font-weight="bold">F</text><rect x="82.15" y="575.7" width="12.7" height="5.5" fill="#a890c0"/><rect x="100.25" y="572.5" width="12.7" height="8.7" fill="#e5899c"/><rect x="118.35" y="576.5" width="12.7" height="4.7" fill="#a890c0"/><rect x="136.45" y="553.2" width="12.7" height="28" fill="#a890c0"/><rect x="154.55" y="557" width="12.7" height="24.2" fill="#e5899c"/><rect x="172.65" y="564.8" width="12.7" height="16.4" fill="#82a5c8"/><rect x="190.75" y="534.5" width="12.7" height="46.7" fill="#a3dca8"/><path d="M76.3,497.1 V529.6 M76.3,531.6 V581.85" stroke="#2b2b2b" stroke-width="1.3" fill="none"/><path d="M73.1,529.6 H79.5 M73.1,531.6 H79.5" stroke="#2b2b2b" stroke-width="1" fill="none"/><path d="M75.65,581.2 H209.7" stroke="#2b2b2b" stroke-width="1.3" fill="none"/><circle cx="85.3" cy="569.7" r="2.05" fill="#5a1870"/><circle cx="92" cy="569.7" r="2.05" fill="#5a1870"/><circle cx="88.5" cy="574" r="2.05" fill="#5a1870"/><circle cx="85" cy="578" r="2.05" fill="#5a1870"/><circle cx="92" cy="578" r="2.05" fill="#5a1870"/><circle cx="88.5" cy="580.5" r="2.05" fill="#5a1870"/><circle cx="106.7" cy="554.8" r="2.05" fill="#cf0c2e"/><circle cx="103" cy="563.8" r="2.05" fill="#cf0c2e"/><circle cx="110.3" cy="563.8" r="2.05" fill="#cf0c2e"/><circle cx="105.6" cy="567.3" r="2.05" fill="#cf0c2e"/><circle cx="102" cy="574.1" r="2.05" fill="#cf0c2e"/><circle cx="112" cy="574.1" r="2.05" fill="#cf0c2e"/><circle cx="104" cy="577" r="2.05" fill="#cf0c2e"/><circle cx="110" cy="577" r="2.05" fill="#cf0c2e"/><circle cx="101" cy="580.5" r="2.05" fill="#cf0c2e"/><circle cx="106" cy="580.5" r="2.05" fill="#cf0c2e"/><circle cx="111" cy="580.5" r="2.05" fill="#cf0c2e"/><circle cx="128" cy="569.7" r="2.05" fill="#5a1870"/><circle cx="121" cy="574.1" r="2.05" fill="#5a1870"/><circle cx="124.5" cy="574.1" r="2.05" fill="#5a1870"/><circle cx="127" cy="576.5" r="2.05" fill="#5a1870"/><circle cx="122" cy="578.9" r="2.05" fill="#5a1870"/><circle cx="125" cy="578.9" r="2.05" fill="#5a1870"/><circle cx="124" cy="581" r="2.05" fill="#5a1870"/><circle cx="142.8" cy="528.9" r="2.05" fill="#5a1870"/><circle cx="142.8" cy="544.8" r="2.05" fill="#5a1870"/><circle cx="140" cy="557.9" r="2.05" fill="#5a1870"/><circle cx="145" cy="557.9" r="2.05" fill="#5a1870"/><circle cx="142.8" cy="564.1" r="2.05" fill="#5a1870"/><circle cx="142.8" cy="569.7" r="2.05" fill="#5a1870"/><circle cx="160.8" cy="527.7" r="2.05" fill="#cf0c2e"/><circle cx="160.8" cy="538" r="2.05" fill="#cf0c2e"/><circle cx="160.8" cy="545" r="2.05" fill="#cf0c2e"/><circle cx="157" cy="551.4" r="2.05" fill="#cf0c2e"/><circle cx="164.5" cy="551.4" r="2.05" fill="#cf0c2e"/><circle cx="164.5" cy="561" r="2.05" fill="#cf0c2e"/><circle cx="155.6" cy="564" r="2.05" fill="#cf0c2e"/><circle cx="158" cy="567" r="2.05" fill="#cf0c2e"/><circle cx="166" cy="570" r="2.05" fill="#cf0c2e"/><circle cx="163.5" cy="574.8" r="2.05" fill="#cf0c2e"/><circle cx="158" cy="579.1" r="2.05" fill="#cf0c2e"/><circle cx="179" cy="527.7" r="2.05" fill="#0e4f91"/><circle cx="182" cy="564.4" r="2.05" fill="#0e4f91"/><circle cx="175.5" cy="567" r="2.05" fill="#0e4f91"/><circle cx="179" cy="572.7" r="2.05" fill="#0e4f91"/><circle cx="175.5" cy="580.9" r="2.05" fill="#0e4f91"/><circle cx="182" cy="580.9" r="2.05" fill="#0e4f91"/><circle cx="197.2" cy="511.1" r="2.05" fill="#35b94b"/><circle cx="194.2" cy="551.4" r="2.05" fill="#35b94b"/><circle cx="200.4" cy="551.4" r="2.05" fill="#35b94b"/><circle cx="197.2" cy="564.4" r="2.05" fill="#35b94b"/><circle cx="194.2" cy="569.6" r="2.05" fill="#35b94b"/><circle cx="200.4" cy="569.6" r="2.05" fill="#35b94b"/><path d="M88.5,573.3 V578" stroke="#1a1a1a" stroke-width="0.9" fill="none"/><path d="M86.1,573.3 H90.9 M86.1,578 H90.9" stroke="#1a1a1a" stroke-width="0.9" fill="none"/><path d="M106.6,570.6 V575.7" stroke="#1a1a1a" stroke-width="0.9" fill="none"/><path d="M104.2,570.6 H109 M104.2,575.7 H109" stroke="#1a1a1a" stroke-width="0.9" fill="none"/><path d="M124.7,574 V578.5" stroke="#1a1a1a" stroke-width="0.9" fill="none"/><path d="M122.3,574 H127.1 M122.3,578.5 H127.1" stroke="#1a1a1a" stroke-width="0.9" fill="none"/><path d="M142.8,548 V559.4" stroke="#1a1a1a" stroke-width="0.9" fill="none"/><path d="M140.4,548 H145.2 M140.4,559.4 H145.2" stroke="#1a1a1a" stroke-width="0.9" fill="none"/><path d="M160.9,552 V561.3" stroke="#1a1a1a" stroke-width="0.9" fill="none"/><path d="M158.5,552 H163.3 M158.5,561.3 H163.3" stroke="#1a1a1a" stroke-width="0.9" fill="none"/><path d="M179,556.1 V573.4" stroke="#1a1a1a" stroke-width="0.9" fill="none"/><path d="M176.6,556.1 H181.4 M176.6,573.4 H181.4" stroke="#1a1a1a" stroke-width="0.9" fill="none"/><path d="M197.1,526 V527.2 M197.1,531.4 V561.3" stroke="#1a1a1a" stroke-width="0.9" fill="none"/><path d="M194.7,526 H199.5 M194.7,561.3 H199.5" stroke="#1a1a1a" stroke-width="0.9" fill="none"/><path d="M88.5,581.2 V583.5" stroke="#2b2b2b" stroke-width="0.8"/><path d="M106.6,581.2 V583.5" stroke="#2b2b2b" stroke-width="0.8"/><path d="M124.7,581.2 V583.5" stroke="#2b2b2b" stroke-width="0.8"/><path d="M142.8,581.2 V583.5" stroke="#2b2b2b" stroke-width="0.8"/><path d="M160.9,581.2 V583.5" stroke="#2b2b2b" stroke-width="0.8"/><path d="M179,581.2 V583.5" stroke="#2b2b2b" stroke-width="0.8"/><path d="M197.1,581.2 V583.5" stroke="#2b2b2b" stroke-width="0.8"/><path d="M73.3,581.2 H76.3" stroke="#2b2b2b" stroke-width="0.9"/><text x="70.3" y="584.05" font-size="8" text-anchor="end" fill="#000">0</text><path d="M73.3,556.2 H76.3" stroke="#2b2b2b" stroke-width="0.9"/><text x="70.3" y="559.05" font-size="8" text-anchor="end" fill="#000">25</text><path d="M73.3,529.4 H76.3" stroke="#2b2b2b" stroke-width="0.9"/><text x="70.3" y="532.25" font-size="8" text-anchor="end" fill="#000">50</text><path d="M73.3,515 H76.3" stroke="#2b2b2b" stroke-width="0.9"/><text x="70.3" y="517.85" font-size="8" text-anchor="end" fill="#000">150</text><path d="M73.3,500.6 H76.3" stroke="#2b2b2b" stroke-width="0.9"/><text x="70.3" y="503.45" font-size="8" text-anchor="end" fill="#000">250</text><text transform="translate(51 541.3) rotate(-90)" font-size="9" font-weight="bold" text-anchor="middle" textLength="36.6" lengthAdjust="spacingAndGlyphs" fill="#111">IL-6 (pg/mL)</text><path d="M124.7,505.1 H160.9" stroke="#444" stroke-width="1.15"/><path d="M141.7,498.35 L142.23,499.37 L143.36,499.56 L142.56,500.38 L142.73,501.52 L141.7,501 L140.67,501.52 L140.84,500.38 L140.04,499.56 L141.17,499.37 Z" fill="#111"/><path d="M124.7,523 H142.8" stroke="#444" stroke-width="1.15"/><path d="M133.4,516.25 L133.93,517.27 L135.06,517.46 L134.26,518.28 L134.43,519.42 L133.4,518.9 L132.37,519.42 L132.54,518.28 L131.74,517.46 L132.87,517.27 Z" fill="#111"/><path d="M179.6,505.1 H197.6" stroke="#444" stroke-width="1.15"/><path d="M188.8,498.35 L189.33,499.37 L190.46,499.56 L189.66,500.38 L189.83,501.52 L188.8,501 L187.77,501.52 L187.94,500.38 L187.14,499.56 L188.27,499.37 Z" fill="#111"/><text x="76.3" y="593.3" font-size="7.5" text-anchor="end" fill="#000">Control platelet</text><path d="M86.3,590.6 H90.7 M88.5,588.4 V592.8" stroke="#222" stroke-width="0.85"/><path d="M104.4,590.6 H108.8" stroke="#222" stroke-width="0.85"/><path d="M122.5,590.6 H126.9" stroke="#222" stroke-width="0.85"/><path d="M140.6,590.6 H145 M142.8,588.4 V592.8" stroke="#222" stroke-width="0.85"/><path d="M158.7,590.6 H163.1" stroke="#222" stroke-width="0.85"/><path d="M176.8,590.6 H181.2" stroke="#222" stroke-width="0.85"/><path d="M194.9,590.6 H199.3 M197.1,588.4 V592.8" stroke="#222" stroke-width="0.85"/><text x="76.3" y="603.3" font-size="7.5" text-anchor="end" fill="#000">COVID-19 platelet</text><path d="M86.3,600.6 H90.7" stroke="#222" stroke-width="0.85"/><path d="M104.4,600.6 H108.8 M106.6,598.4 V602.8" stroke="#222" stroke-width="0.85"/><path d="M122.5,600.6 H126.9" stroke="#222" stroke-width="0.85"/><path d="M140.6,600.6 H145" stroke="#222" stroke-width="0.85"/><path d="M158.7,600.6 H163.1 M160.9,598.4 V602.8" stroke="#222" stroke-width="0.85"/><path d="M176.8,600.6 H181.2" stroke="#222" stroke-width="0.85"/><path d="M194.9,600.6 H199.3" stroke="#222" stroke-width="0.85"/><text x="76.3" y="613.3" font-size="7.5" text-anchor="end" fill="#000">Control monocyte</text><path d="M86.3,610.6 H90.7" stroke="#222" stroke-width="0.85"/><path d="M104.4,610.6 H108.8" stroke="#222" stroke-width="0.85"/><path d="M122.5,610.6 H126.9 M124.7,608.4 V612.8" stroke="#222" stroke-width="0.85"/><path d="M140.6,610.6 H145 M142.8,608.4 V612.8" stroke="#222" stroke-width="0.85"/><path d="M158.7,610.6 H163.1 M160.9,608.4 V612.8" stroke="#222" stroke-width="0.85"/><path d="M176.8,610.6 H181.2" stroke="#222" stroke-width="0.85"/><path d="M194.9,610.6 H199.3" stroke="#222" stroke-width="0.85"/><text x="76.3" y="623.3" font-size="7.5" text-anchor="end" fill="#000">COVID-19 monocyte</text><path d="M86.3,620.6 H90.7" stroke="#222" stroke-width="0.85"/><path d="M104.4,620.6 H108.8" stroke="#222" stroke-width="0.85"/><path d="M122.5,620.6 H126.9" stroke="#222" stroke-width="0.85"/><path d="M140.6,620.6 H145" stroke="#222" stroke-width="0.85"/><path d="M158.7,620.6 H163.1" stroke="#222" stroke-width="0.85"/><path d="M176.8,620.6 H181.2 M179,618.4 V622.8" stroke="#222" stroke-width="0.85"/><path d="M194.9,620.6 H199.3 M197.1,618.4 V622.8" stroke="#222" stroke-width="0.85"/><text x="310.4" y="490.8" font-size="10.2" font-weight="bold">G</text><rect x="385.65" y="580" width="12.7" height="1.3" fill="#a890c0"/><rect x="403.85" y="580" width="12.7" height="1.3" fill="#e5899c"/><rect x="422.05" y="567.8" width="12.7" height="13.5" fill="#a890c0"/><rect x="440.05" y="545.2" width="12.7" height="36.1" fill="#a890c0"/><rect x="458.15" y="550.7" width="12.7" height="30.6" fill="#e5899c"/><rect x="476.25" y="538.5" width="12.7" height="42.8" fill="#82a5c8"/><rect x="494.35" y="536.8" width="12.7" height="44.5" fill="#a3dca8"/><path d="M379.9,497.1 V581.95" stroke="#2b2b2b" stroke-width="1.3" fill="none"/><path d="M379.25,581.3 H513.3" stroke="#2b2b2b" stroke-width="1.3" fill="none"/><circle cx="388.8" cy="580.3" r="2.05" fill="#5a1870"/><circle cx="392" cy="580.3" r="2.05" fill="#5a1870"/><circle cx="395.2" cy="580.3" r="2.05" fill="#5a1870"/><circle cx="406.8" cy="580.3" r="2.05" fill="#cf0c2e"/><circle cx="410.2" cy="580.3" r="2.05" fill="#cf0c2e"/><circle cx="413.6" cy="580.3" r="2.05" fill="#cf0c2e"/><circle cx="425.9" cy="545.9" r="2.05" fill="#5a1870"/><circle cx="431" cy="549" r="2.05" fill="#5a1870"/><circle cx="428.4" cy="561.4" r="2.05" fill="#5a1870"/><circle cx="425.7" cy="569.4" r="2.05" fill="#5a1870"/><circle cx="431.3" cy="571.7" r="2.05" fill="#5a1870"/><circle cx="424" cy="580.5" r="2.05" fill="#5a1870"/><circle cx="428.4" cy="580.5" r="2.05" fill="#5a1870"/><circle cx="432.5" cy="580.5" r="2.05" fill="#5a1870"/><circle cx="443.6" cy="529.7" r="2.05" fill="#5a1870"/><circle cx="449" cy="532.9" r="2.05" fill="#5a1870"/><circle cx="446.3" cy="544.3" r="2.05" fill="#5a1870"/><circle cx="446.3" cy="550" r="2.05" fill="#5a1870"/><circle cx="449.3" cy="556.3" r="2.05" fill="#5a1870"/><circle cx="443.6" cy="558.6" r="2.05" fill="#5a1870"/><circle cx="464.5" cy="521.4" r="2.05" fill="#cf0c2e"/><circle cx="467.3" cy="529.4" r="2.05" fill="#cf0c2e"/><circle cx="461.8" cy="533.8" r="2.05" fill="#cf0c2e"/><circle cx="461.8" cy="542" r="2.05" fill="#cf0c2e"/><circle cx="470" cy="542" r="2.05" fill="#cf0c2e"/><circle cx="467.3" cy="545.5" r="2.05" fill="#cf0c2e"/><circle cx="461.8" cy="549.3" r="2.05" fill="#cf0c2e"/><circle cx="461" cy="563.5" r="2.05" fill="#cf0c2e"/><circle cx="468" cy="563.5" r="2.05" fill="#cf0c2e"/><circle cx="464.5" cy="566.5" r="2.05" fill="#cf0c2e"/><circle cx="467" cy="573.8" r="2.05" fill="#cf0c2e"/><circle cx="461.8" cy="577.5" r="2.05" fill="#cf0c2e"/><circle cx="482.4" cy="522.8" r="2.05" fill="#0e4f91"/><circle cx="485.5" cy="533.6" r="2.05" fill="#0e4f91"/><circle cx="477.2" cy="535.5" r="2.05" fill="#0e4f91"/><circle cx="480" cy="540.3" r="2.05" fill="#0e4f91"/><circle cx="485.5" cy="545" r="2.05" fill="#0e4f91"/><circle cx="482.4" cy="553.4" r="2.05" fill="#0e4f91"/><circle cx="500.8" cy="503.2" r="2.05" fill="#35b94b"/><circle cx="500.8" cy="528.9" r="2.05" fill="#35b94b"/><circle cx="497.6" cy="543.2" r="2.05" fill="#35b94b"/><circle cx="506.1" cy="545" r="2.05" fill="#35b94b"/><circle cx="503.4" cy="547.8" r="2.05" fill="#35b94b"/><circle cx="497.6" cy="552" r="2.05" fill="#35b94b"/><path d="M428.4,561.9 V572.5" stroke="#1a1a1a" stroke-width="0.9" fill="none"/><path d="M426,561.9 H430.8 M426,572.5 H430.8" stroke="#1a1a1a" stroke-width="0.9" fill="none"/><path d="M446.4,540.5 V550.3" stroke="#1a1a1a" stroke-width="0.9" fill="none"/><path d="M444,540.5 H448.8 M444,550.3 H448.8" stroke="#1a1a1a" stroke-width="0.9" fill="none"/><path d="M464.5,545.5 V556" stroke="#1a1a1a" stroke-width="0.9" fill="none"/><path d="M462.1,545.5 H466.9 M462.1,556 H466.9" stroke="#1a1a1a" stroke-width="0.9" fill="none"/><path d="M482.6,534.5 V542.5" stroke="#1a1a1a" stroke-width="0.9" fill="none"/><path d="M480.2,534.5 H485 M480.2,542.5 H485" stroke="#1a1a1a" stroke-width="0.9" fill="none"/><path d="M500.7,529.4 V544.6" stroke="#1a1a1a" stroke-width="0.9" fill="none"/><path d="M498.3,529.4 H503.1 M498.3,544.6 H503.1" stroke="#1a1a1a" stroke-width="0.9" fill="none"/><path d="M392,581.3 V583.6" stroke="#2b2b2b" stroke-width="0.8"/><path d="M410.2,581.3 V583.6" stroke="#2b2b2b" stroke-width="0.8"/><path d="M428.4,581.3 V583.6" stroke="#2b2b2b" stroke-width="0.8"/><path d="M446.4,581.3 V583.6" stroke="#2b2b2b" stroke-width="0.8"/><path d="M464.5,581.3 V583.6" stroke="#2b2b2b" stroke-width="0.8"/><path d="M482.6,581.3 V583.6" stroke="#2b2b2b" stroke-width="0.8"/><path d="M500.7,581.3 V583.6" stroke="#2b2b2b" stroke-width="0.8"/><path d="M376.9,580.9 H379.9" stroke="#2b2b2b" stroke-width="0.9"/><text x="373.9" y="583.75" font-size="8" text-anchor="end" fill="#000">0</text><path d="M376.9,561.2 H379.9" stroke="#2b2b2b" stroke-width="0.9"/><text x="373.9" y="564.05" font-size="8" text-anchor="end" fill="#000">250</text><path d="M376.9,541.2 H379.9" stroke="#2b2b2b" stroke-width="0.9"/><text x="373.9" y="544.05" font-size="8" text-anchor="end" fill="#000">500</text><path d="M376.9,521.2 H379.9" stroke="#2b2b2b" stroke-width="0.9"/><text x="373.9" y="524.05" font-size="8" text-anchor="end" fill="#000">750</text><path d="M376.9,501.1 H379.9" stroke="#2b2b2b" stroke-width="0.9"/><text x="373.9" y="503.95" font-size="8" text-anchor="end" fill="#000">1000</text><text transform="translate(350.9 540.8) rotate(-90)" font-size="9" font-weight="bold" text-anchor="middle" textLength="63.4" lengthAdjust="spacingAndGlyphs" fill="#111">MCP-1/CCL2 (pg/mL)</text><path d="M428.4,493.2 H482.6" stroke="#444" stroke-width="1.15"/><path d="M454.8,486.45 L455.33,487.47 L456.46,487.66 L455.66,488.48 L455.83,489.62 L454.8,489.1 L453.77,489.62 L453.94,488.48 L453.14,487.66 L454.27,487.47 Z" fill="#111"/><path d="M428.4,511.1 H464.5" stroke="#444" stroke-width="1.15"/><path d="M446.5,504.35 L447.03,505.37 L448.16,505.56 L447.36,506.38 L447.53,507.52 L446.5,507 L445.47,507.52 L445.64,506.38 L444.84,505.56 L445.97,505.37 Z" fill="#111"/><path d="M428.4,524.5 H445.4" stroke="#444" stroke-width="1.15"/><path d="M436.8,517.75 L437.33,518.77 L438.46,518.96 L437.66,519.78 L437.83,520.92 L436.8,520.4 L435.77,520.92 L435.94,519.78 L435.14,518.96 L436.27,518.77 Z" fill="#111"/><text x="380" y="593.4" font-size="7.5" text-anchor="end" fill="#000">Control platelet</text><path d="M389.8,590.7 H394.2 M392,588.5 V592.9" stroke="#222" stroke-width="0.85"/><path d="M408,590.7 H412.4" stroke="#222" stroke-width="0.85"/><path d="M426.2,590.7 H430.6" stroke="#222" stroke-width="0.85"/><path d="M444.2,590.7 H448.6 M446.4,588.5 V592.9" stroke="#222" stroke-width="0.85"/><path d="M462.3,590.7 H466.7" stroke="#222" stroke-width="0.85"/><path d="M480.4,590.7 H484.8" stroke="#222" stroke-width="0.85"/><path d="M498.5,590.7 H502.9 M500.7,588.5 V592.9" stroke="#222" stroke-width="0.85"/><text x="380" y="603.4" font-size="7.5" text-anchor="end" fill="#000">COVID-19 platelet</text><path d="M389.8,600.7 H394.2" stroke="#222" stroke-width="0.85"/><path d="M408,600.7 H412.4 M410.2,598.5 V602.9" stroke="#222" stroke-width="0.85"/><path d="M426.2,600.7 H430.6" stroke="#222" stroke-width="0.85"/><path d="M444.2,600.7 H448.6" stroke="#222" stroke-width="0.85"/><path d="M462.3,600.7 H466.7 M464.5,598.5 V602.9" stroke="#222" stroke-width="0.85"/><path d="M480.4,600.7 H484.8" stroke="#222" stroke-width="0.85"/><path d="M498.5,600.7 H502.9" stroke="#222" stroke-width="0.85"/><text x="380" y="613.4" font-size="7.5" text-anchor="end" fill="#000">Control monocyte</text><path d="M389.8,610.7 H394.2" stroke="#222" stroke-width="0.85"/><path d="M408,610.7 H412.4" stroke="#222" stroke-width="0.85"/><path d="M426.2,610.7 H430.6 M428.4,608.5 V612.9" stroke="#222" stroke-width="0.85"/><path d="M444.2,610.7 H448.6 M446.4,608.5 V612.9" stroke="#222" stroke-width="0.85"/><path d="M462.3,610.7 H466.7 M464.5,608.5 V612.9" stroke="#222" stroke-width="0.85"/><path d="M480.4,610.7 H484.8" stroke="#222" stroke-width="0.85"/><path d="M498.5,610.7 H502.9" stroke="#222" stroke-width="0.85"/><text x="380" y="623.4" font-size="7.5" text-anchor="end" fill="#000">COVID-19 monocyte</text><path d="M389.8,620.7 H394.2" stroke="#222" stroke-width="0.85"/><path d="M408,620.7 H412.4" stroke="#222" stroke-width="0.85"/><path d="M426.2,620.7 H430.6" stroke="#222" stroke-width="0.85"/><path d="M444.2,620.7 H448.6" stroke="#222" stroke-width="0.85"/><path d="M462.3,620.7 H466.7" stroke="#222" stroke-width="0.85"/><path d="M480.4,620.7 H484.8 M482.6,618.5 V622.9" stroke="#222" stroke-width="0.85"/><path d="M498.5,620.7 H502.9 M500.7,618.5 V622.9" stroke="#222" stroke-width="0.85"/>
<rect x="0.6" y="0.6" width="518.8" height="628.8" fill="none" stroke="#000" stroke-width="1.2"/>
</svg>
</body></html>
